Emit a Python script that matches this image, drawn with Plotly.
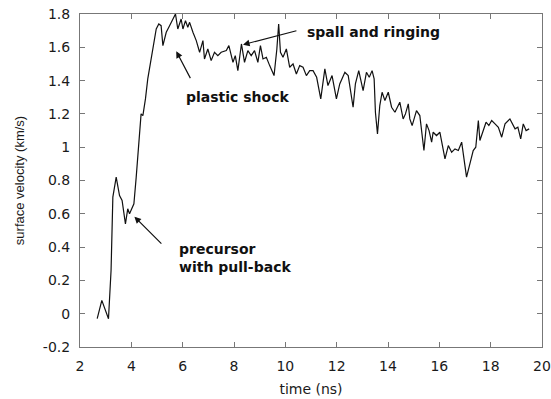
import plotly.graph_objects as go

time_ns = [2.67, 2.85, 3.11, 3.21, 3.28, 3.41, 3.54, 3.64, 3.77, 3.86, 3.93, 4.10, 4.19, 4.32, 4.38, 4.45,
           4.55, 4.64, 4.77, 4.90, 4.97, 5.07, 5.16, 5.23, 5.36, 5.49, 5.62, 5.72, 5.81, 5.94, 6.01,
           6.11, 6.20, 6.27, 6.40, 6.53, 6.66, 6.79, 6.85, 6.98, 7.11, 7.24, 7.37, 7.50, 7.70, 7.80,
           7.96, 8.05, 8.15, 8.29, 8.41, 8.54, 8.67, 8.80, 8.93, 9.03, 9.13, 9.26, 9.39, 9.56, 9.67,
           9.74, 9.81, 9.91, 10.04, 10.17, 10.30, 10.43, 10.56, 10.69, 10.82, 10.95, 11.08, 11.22,
           11.38, 11.54, 11.66, 11.82, 11.99, 12.12, 12.32, 12.45, 12.64, 12.73, 12.86, 13.03, 13.16,
           13.27, 13.38, 13.46, 13.51, 13.59, 13.68, 13.77, 13.88, 14.01, 14.14, 14.27, 14.46, 14.59,
           14.68, 14.79, 14.85, 14.94, 15.11, 15.24, 15.40, 15.50, 15.60, 15.70, 15.76, 15.89, 16.02,
           16.10, 16.22, 16.35, 16.48, 16.61, 16.74, 16.87, 16.93, 17.06, 17.19, 17.32, 17.42, 17.52,
           17.58, 17.70, 17.82, 17.93, 18.04, 18.17, 18.30, 18.43, 18.56, 18.75, 18.95, 19.06, 19.17,
           19.27, 19.38, 19.50]
velocity = [-0.03, 0.08, -0.03, 0.26, 0.70, 0.82, 0.71, 0.68, 0.54, 0.63, 0.60, 0.66, 0.82, 1.05, 1.20, 1.19,
            1.29, 1.41, 1.53, 1.65, 1.71, 1.74, 1.73, 1.61, 1.69, 1.73, 1.77, 1.80, 1.71, 1.77, 1.71,
            1.76, 1.72, 1.75, 1.69, 1.64, 1.57, 1.64, 1.53, 1.59, 1.52, 1.57, 1.55, 1.57, 1.58, 1.61,
            1.51, 1.55, 1.46, 1.62, 1.51, 1.58, 1.55, 1.58, 1.51, 1.61, 1.53, 1.54, 1.49, 1.43, 1.59,
            1.74, 1.57, 1.54, 1.59, 1.48, 1.50, 1.44, 1.49, 1.48, 1.43, 1.46, 1.46, 1.42,
            1.29, 1.47, 1.37, 1.43, 1.29, 1.38, 1.45, 1.43, 1.24, 1.38, 1.46, 1.34, 1.45,
            1.42, 1.46, 1.41, 1.21, 1.08, 1.25, 1.33, 1.28, 1.33, 1.24, 1.21, 1.27, 1.17,
            1.20, 1.26, 1.17, 1.13, 1.22, 1.19, 0.98, 1.14, 1.10, 1.03, 1.09, 1.07, 1.09,
            1.03, 0.93, 1.01, 0.97, 0.99, 0.98, 1.03, 0.97, 0.82, 0.90, 0.98, 1.00, 1.16,
            1.04, 1.10, 1.15, 1.13, 1.16, 1.14, 1.12, 1.06, 1.14, 1.17, 1.11, 1.12, 1.05,
            1.14, 1.10, 1.11]

x_ticks = [2, 4, 6, 8, 10, 12, 14, 16, 18, 20]
y_ticks = [-0.2, 0, 0.2, 0.4, 0.6, 0.8, 1, 1.2, 1.4, 1.6, 1.8]
y_tick_text = ["-0.2", "0", "0.2", "0.4", "0.6", "0.8", "1", "1.2", "1.4", "1.6", "1.8"]

fig = go.Figure()
fig.add_trace(go.Scatter(x=time_ns, y=velocity, mode="lines",
                         line=dict(color="#111111", width=1.2), showlegend=False))

font_lbl = dict(family="DejaVu Sans, sans-serif", size=14, color="#111111")
arrow_common = dict(showarrow=True, arrowhead=2, arrowsize=1.1, arrowwidth=1.2, arrowcolor="#111111",
                    xref="x", yref="y", axref="x", ayref="y", text="")
fig.add_annotation(x=8.35, y=1.616, ax=10.49, ay=1.702, **arrow_common)
fig.add_annotation(x=5.75, y=1.576, ax=6.33, ay=1.406, **arrow_common)
fig.add_annotation(x=4.12, y=0.583, ax=5.23, ay=0.412, **arrow_common)

fig.add_annotation(x=10.76, y=1.689, text="<b>spall and ringing</b>", showarrow=False,
                   xanchor="left", yanchor="middle", font=font_lbl)
fig.add_annotation(x=8.14, y=1.303, text="<b>plastic shock</b>", showarrow=False,
                   xanchor="center", yanchor="middle", font=font_lbl)
fig.add_annotation(x=5.76, y=0.337, text="<b>precursor<br>with pull-back</b>", showarrow=False,
                   xanchor="left", yanchor="middle", align="left", font=font_lbl)

axis_common = dict(showline=True, linecolor="#777777", linewidth=1, mirror="ticks",
                   ticks="inside", ticklen=5, tickcolor="#777777", showgrid=False, zeroline=False,
                   ticklabelstandoff=6, automargin=False,
                   tickfont=dict(family="DejaVu Sans, sans-serif", size=14, color="#1a1a1a"))
fig.update_xaxes(range=[2, 20], tickvals=x_ticks, **axis_common,
                 title=dict(text="time (ns)", standoff=11,
                            font=dict(family="DejaVu Sans, sans-serif", size=14, color="#1a1a1a")))
fig.update_yaxes(range=[-0.2, 1.8], tickvals=y_ticks, ticktext=y_tick_text, **axis_common,
                 title=dict(text="surface velocity (km/s)", standoff=15,
                            font=dict(family="Liberation Sans, Arial, sans-serif", size=13, color="#1a1a1a")))

fig.update_layout(width=551, height=399, margin=dict(l=80, r=9, t=14, b=52),
                  plot_bgcolor="white", paper_bgcolor="white")
fig.write_html("out.html")
